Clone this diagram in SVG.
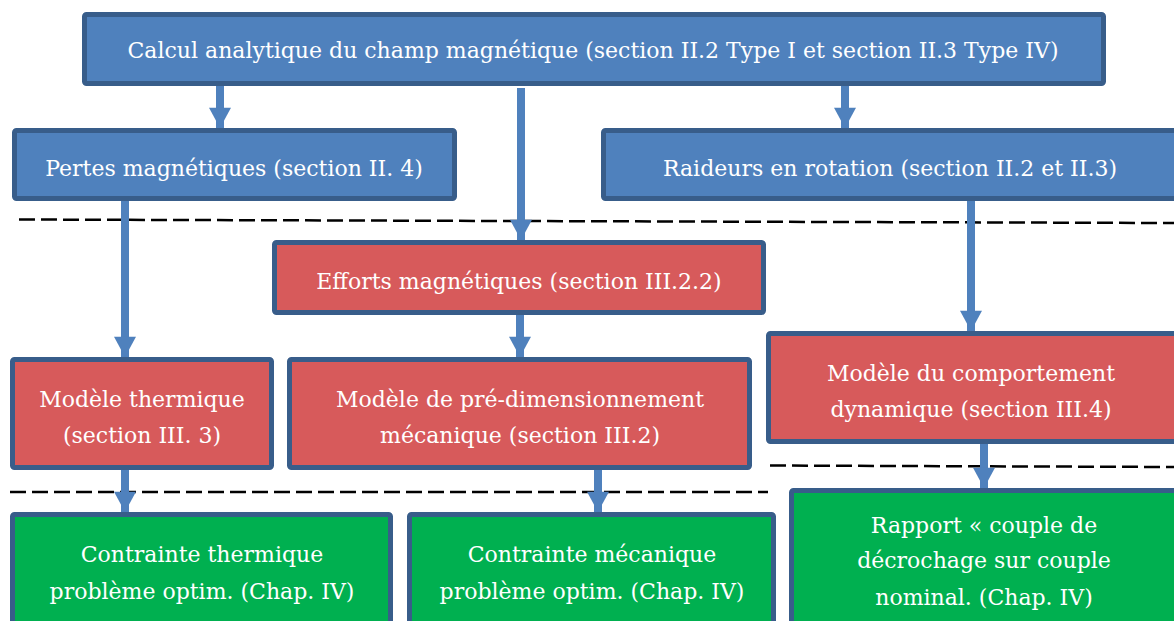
<svg xmlns="http://www.w3.org/2000/svg" width="1174" height="621" viewBox="0 0 1174 621">
<defs>
<style>
.box{stroke:#385D8A;stroke-width:5}
.blue{fill:#4F81BD}
.red{fill:#D75A5B}
.green{fill:#00B050}
.t{font-family:"DejaVu Serif","Liberation Serif",serif;font-size:22px;fill:#FFFFFF;text-anchor:middle}
.arr{stroke:#4F81BD;stroke-width:8;fill:none;marker-end:url(#ah)}
.dash{stroke:#000000;stroke-width:2.5;stroke-dasharray:16 6;fill:none}
</style>
<marker id="ah" markerUnits="userSpaceOnUse" markerWidth="24" markerHeight="22" refX="22" refY="12" orient="auto" viewBox="0 0 22 24">
<path d="M0,0 L22,12 L0,24 Z" fill="#4F81BD"/>
</marker>
</defs>
<rect width="1174" height="621" fill="#FFFFFF"/>
<g id="separators">
<path class="dash" d="M19,219.5 L1174,223"/>
<path class="dash" d="M10,492 L768,492"/>
<path class="dash" d="M770,465.5 L1174,467"/>
</g>
<g id="connectors">
<path class="arr" d="M220,86 L220,128"/>
<path class="arr" d="M521,88 L521,240"/>
<path class="arr" d="M845,86 L845,128"/>
<path class="arr" d="M125,201 L125,357"/>
<path class="arr" d="M971,201 L971,331"/>
<path class="arr" d="M520,315 L520,357"/>
<path class="arr" d="M125,470 L125,512"/>
<path class="arr" d="M598,470 L598,512"/>
<path class="arr" d="M984,444 L984,488"/>
</g>
<g id="calcul">
<rect class="box blue" x="84.5" y="14.5" width="1019" height="69" rx="2"/>
<text class="t" x="593" y="58">Calcul analytique du champ magnétique (section II.2 Type I et section II.3 Type IV)</text>
</g>
<g id="pertes">
<rect class="box blue" x="14.5" y="130.5" width="440" height="68" rx="2"/>
<text class="t" x="234" y="176">Pertes magnétiques (section II. 4)</text>
</g>
<g id="raideurs">
<rect class="box blue" x="603.5" y="130.5" width="580" height="68" rx="2"/>
<text class="t" x="890" y="176">Raideurs en rotation (section II.2 et II.3)</text>
</g>
<g id="efforts">
<rect class="box red" x="274.5" y="242.5" width="489" height="70" rx="2"/>
<text class="t" x="519" y="289">Efforts magnétiques (section III.2.2)</text>
</g>
<g id="thermique">
<rect class="box red" x="12.5" y="359.5" width="259" height="108" rx="2"/>
<text class="t" x="142" y="407">Modèle thermique</text>
<text class="t" x="142" y="443">(section III. 3)</text>
</g>
<g id="predim">
<rect class="box red" x="289.5" y="359.5" width="460" height="108" rx="2"/>
<text class="t" x="520" y="407">Modèle de pré-dimensionnement</text>
<text class="t" x="520" y="443">mécanique (section III.2)</text>
</g>
<g id="dynamique">
<rect class="box red" x="768.5" y="333.5" width="420" height="108" rx="2"/>
<text class="t" x="971" y="381">Modèle du comportement</text>
<text class="t" x="971" y="417">dynamique (section III.4)</text>
</g>
<g id="c_thermique">
<rect class="box green" x="12.5" y="514.5" width="378" height="120" rx="2"/>
<text class="t" x="202" y="562">Contrainte thermique</text>
<text class="t" x="202" y="599">problème optim. (Chap. IV)</text>
</g>
<g id="c_mecanique">
<rect class="box green" x="409.5" y="514.5" width="364" height="120" rx="2"/>
<text class="t" x="592" y="562">Contrainte mécanique</text>
<text class="t" x="592" y="599">problème optim. (Chap. IV)</text>
</g>
<g id="rapport">
<rect class="box green" x="791.5" y="490.5" width="400" height="145" rx="2"/>
<text class="t" x="984" y="533">Rapport « couple de</text>
<text class="t" x="984" y="568">décrochage sur couple</text>
<text class="t" x="984" y="605">nominal. (Chap. IV)</text>
</g>
</svg>
